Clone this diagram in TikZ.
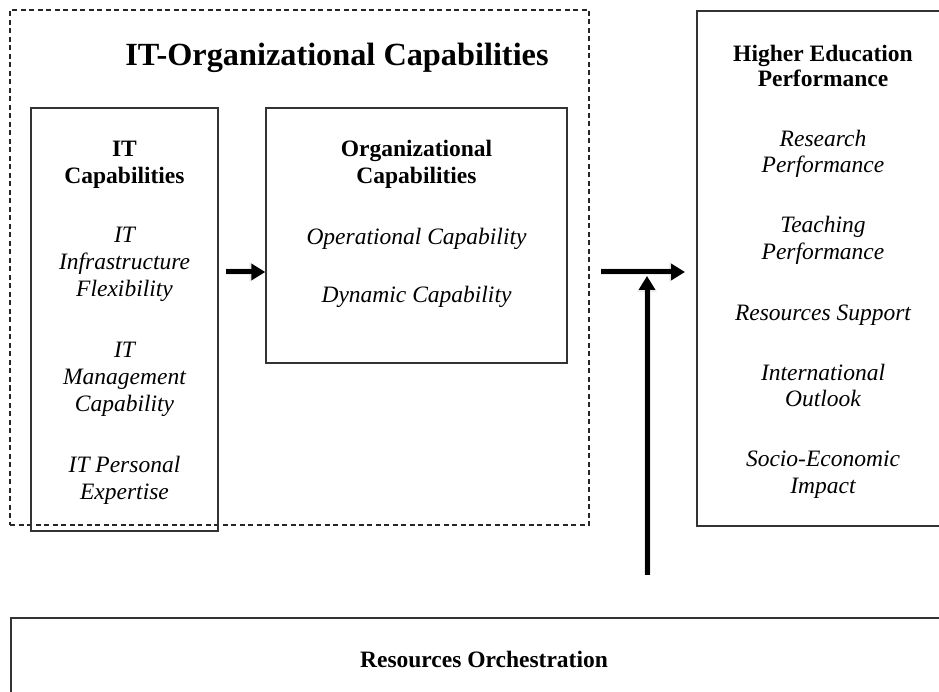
\documentclass[tikz,border=0pt]{standalone}
\usepackage{fontspec}
\setmainfont{Liberation Serif}
\usetikzlibrary{arrows.meta}
\begin{document}
\begin{tikzpicture}[x=1pt,y=-1pt,
  frame/.style={draw=black!80, line width=1.4pt, inner sep=0pt},
  group/.style={draw=black!85, line width=1.2pt, dash pattern=on 5pt off 3.5pt, inner sep=0pt},
  title/.style={font=\fontsize{32.3}{37}\selectfont\bfseries, anchor=base, inner sep=0pt},
  head/.style={font=\fontsize{23.5}{27}\selectfont\bfseries, anchor=base, inner sep=0pt},
  item/.style={font=\fontsize{23.5}{27}\selectfont\itshape, anchor=base, inner sep=0pt},
  flow/.style={line width=5pt, -{Triangle[length=14pt,width=16pt]}},
  flowshade/.style={line width=7pt, draw=black, opacity=0.08, -{Triangle[length=16pt,width=19pt]}},
]
\useasboundingbox (0,0) rectangle (939,692);
\clip (0,0) rectangle (939,692);

% outer group and boxes
\node[group, minimum width=579pt, minimum height=515pt] (itorg) at (299.5,267.5) {};
\node[frame, minimum width=187pt, minimum height=423pt] (itcap) at (124.5,319.5) {};
\node[frame, minimum width=301pt, minimum height=255pt] (orgcap) at (416.5,235.5) {};
\node[frame, minimum width=253pt, minimum height=515pt] (hep) at (823.5,268.5) {};
\node[frame, minimum width=960pt, minimum height=142pt] (orch) at (491,689) {};

% group title
\node[title] (ttl) at (337,66) {IT-Organizational Capabilities};

% IT capabilities
\node[head] (h1a) at (124.5,157) {IT};
\node[head] (h1b) at (124.5,184) {Capabilities};
\node[item] (i1a) at (124.5,243) {IT};
\node[item] (i1b) at (124.5,270) {Infrastructure};
\node[item] (i1c) at (124.5,297) {Flexibility};
\node[item] (i1d) at (124.5,357) {IT};
\node[item] (i1e) at (124.5,384) {Management};
\node[item] (i1f) at (124.5,411) {Capability};
\node[item] (i1g) at (124.5,472) {IT Personal};
\node[item] (i1h) at (124.5,499) {Expertise};

% organizational capabilities
\node[head] (h2a) at (416.5,157) {Organizational};
\node[head] (h2b) at (416.5,184) {Capabilities};
\node[item] (i2a) at (416.5,245) {Operational Capability};
\node[item] (i2b) at (416.5,303) {Dynamic Capability};

% higher education performance
\node[head] (h3a) at (823,62) {Higher Education};
\node[head] (h3b) at (823,87) {Performance};
\node[item] (i3a) at (823,147) {Research};
\node[item] (i3b) at (823,173) {Performance};
\node[item] (i3c) at (823,233) {Teaching};
\node[item] (i3d) at (823,260) {Performance};
\node[item] (i3e) at (823,320) {Resources Support};
\node[item] (i3f) at (823,380) {International};
\node[item] (i3g) at (823,406) {Outlook};
\node[item] (i3h) at (823,466) {Socio-Economic};
\node[item] (i3i) at (823,493) {Impact};

% resources orchestration
\node[head] (h4) at (484,667) {Resources Orchestration};

% connectors, each with a faint soft shadow underneath
\coordinate (a1) at (226,272);
\coordinate (a2) at (orgcap.west |- a1);
\coordinate (b1) at (601,272);
\coordinate (b2) at (685,272);
\coordinate (c1) at (647,575);
\coordinate (c2) at (647,276);
\begin{scope}[shift={(1.5,3)}]
  \draw[flowshade] (a1) -- (a2);
  \draw[flowshade] (b1) -- (b2);
  \draw[flowshade] (c1) -- (c2);
\end{scope}
\draw[flow] (a1) -- (a2);
\draw[flow] (b1) -- (b2);
\draw[flow] (c1) -- (c2);
\end{tikzpicture}
\end{document}
